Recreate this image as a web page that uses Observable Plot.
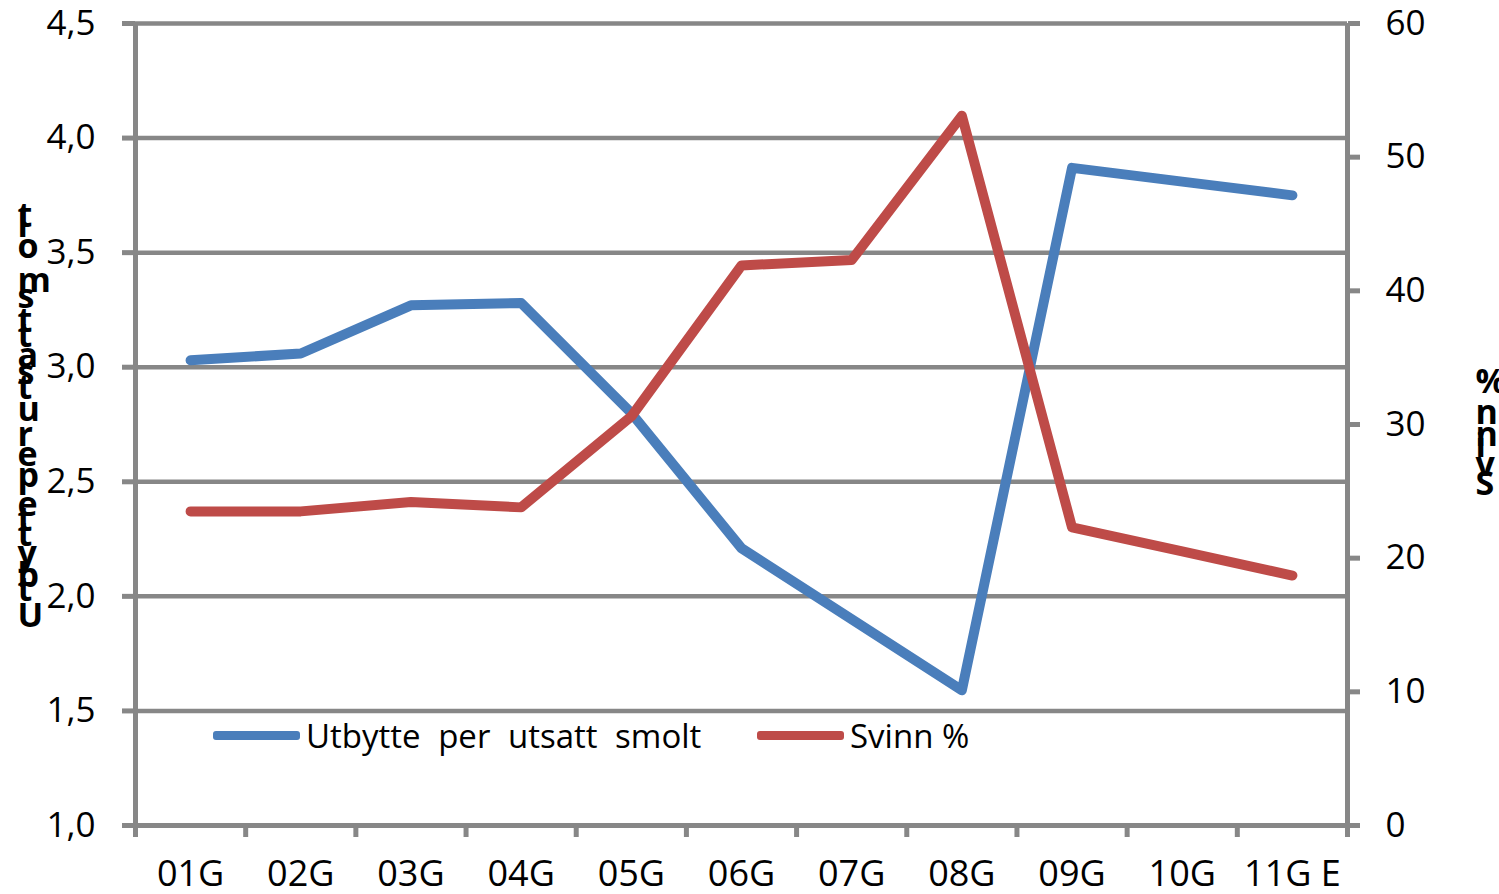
<!DOCTYPE html>
<html><head><meta charset="utf-8">
<script src="https://cdn.jsdelivr.net/npm/d3@7"></script>
<script src="https://cdn.jsdelivr.net/npm/@observablehq/plot@0.6"></script>
<style>
body{margin:0;background:#fff;}
#wrap{position:relative;width:1499px;height:894px;overflow:hidden;background:#fff;}
.leg{position:absolute;height:40px;display:flex;align-items:center;font-family:"Open Sans";font-size:33px;color:#000;white-space:pre;}
.leg .bar{display:inline-block;width:87px;height:9px;border-radius:3px;margin-right:6px;}
</style>
</head><body><div id="wrap"></div>
<script>
const categories = ["01G","02G","03G","04G","05G","06G","07G","08G","09G","10G","11G E"];
const utbytte = [3.03, 3.06, 3.27, 3.28, 2.80, 2.21, 1.90, 1.59, 3.87, 3.81, 3.75];
const svinn = [23.5, 23.5, 24.2, 23.8, 30.6, 41.9, 42.3, 53.1, 22.3, 20.5, 18.7];
const leftTicks = [1.0, 1.5, 2.0, 2.5, 3.0, 3.5, 4.0, 4.5];
const rightTicks = [0, 10, 20, 30, 40, 50, 60];
const seriesNames = ["Utbytte per utsatt smolt", "Svinn %"];
const leftTitle = "Utbytte per utsatt smolt";
const rightTitle = "Svinn %";

const leftDomain = [1, 4.5], rightDomain = [0, 60];
const toLeft = v => leftDomain[0] + (v - rightDomain[0]) / (rightDomain[1] - rightDomain[0]) * (leftDomain[1] - leftDomain[0]);
const fromLeft = v => rightDomain[0] + (v - leftDomain[0]) / (leftDomain[1] - leftDomain[0]) * (rightDomain[1] - rightDomain[0]);

const blue = "#4a7ebb", red = "#be4b48", grey = "#878787";
const rows = categories.map((c, i) => ({cat: c, pos: i + 0.5, utbytte: utbytte[i], svinn: svinn[i]}));

const chart = Plot.plot({
  width: 1499, height: 894,
  marginLeft: 135, marginRight: 152, marginTop: 23, marginBottom: 69,
  style: {fontFamily: "Open Sans", fontSize: "33px", color: "#000", background: "transparent", overflow: "visible"},
  x: {type: "linear", domain: [0, categories.length]},
  y: {domain: leftDomain},
  marks: [
    Plot.gridY(leftTicks, {stroke: grey, strokeOpacity: 1, strokeWidth: 4.5}),
    Plot.ruleX([0, categories.length], {stroke: grey, strokeWidth: 5}),
    Plot.ruleY([leftDomain[0]], {stroke: grey, strokeWidth: 5}),
    Plot.axisY(leftTicks, {anchor: "left", tickSize: 13, tickPadding: 27, stroke: grey, strokeWidth: 5, color: "#000", fontSize: 35, label: null,
      tickFormat: d => d.toFixed(1).replace(".", ",")}),
    Plot.axisY(rightTicks.map(toLeft), {anchor: "right", tickSize: 12, tickPadding: 26, stroke: grey, strokeWidth: 5, color: "#000", fontSize: 35, label: null,
      tickFormat: d => String(Math.round(fromLeft(d)))}),
    Plot.axisX(d3.range(categories.length + 1), {anchor: "bottom", tickSize: 12, stroke: grey, strokeWidth: 5, label: null, tickFormat: () => ""}),
    Plot.axisX(rows.map(d => d.pos), {anchor: "bottom", tickSize: 0, tickPadding: 35, color: "#000", fontSize: 36, label: null,
      tickFormat: d => categories[Math.round(d - 0.5)]}),
    Plot.line(rows, {x: "pos", y: "utbytte", stroke: blue, strokeWidth: 10, strokeLinejoin: "round", strokeLinecap: "round"}),
    Plot.line(rows, {x: "pos", y: d => toLeft(d.svinn), stroke: red, strokeWidth: 10, strokeLinejoin: "round", strokeLinecap: "round"}),
    Plot.text([leftTitle], {frameAnchor: "left", dx: -118, dy: -5, rotate: -90, textAnchor: "middle", lineAnchor: "bottom",
      fontWeight: "bold", fontSize: 34, fill: "#000"}),
    Plot.text([rightTitle], {frameAnchor: "right", dx: 128, dy: 4, rotate: -90, textAnchor: "middle", lineAnchor: "bottom",
      fontWeight: "bold", fontSize: 34, fill: "#000"})
  ]
});
// Stack the glyphs upright along the rotated baseline, as in the original
chart.querySelectorAll("text").forEach(t => {
  if (t.textContent === leftTitle || t.textContent === rightTitle) {
    const tspans = t.querySelectorAll("tspan");
    if (tspans.length) tspans.forEach(s => s.setAttribute("rotate", "90"));
    t.setAttribute("rotate", "90");
  }
});

const wrap = document.getElementById("wrap");
wrap.appendChild(chart);

const legendColors = [blue, red];
const legendLeft = [213, 757];
const legendWordSpacing = [9, 0];
seriesNames.forEach((name, i) => {
  const d = document.createElement("div");
  d.className = "leg";
  d.style.left = legendLeft[i] + "px";
  d.style.top = "715px";
  d.style.wordSpacing = legendWordSpacing[i] + "px";
  const b = document.createElement("span");
  b.className = "bar";
  b.style.background = legendColors[i];
  d.appendChild(b);
  d.appendChild(document.createTextNode(name));
  wrap.appendChild(d);
});
</script>
</body></html>
